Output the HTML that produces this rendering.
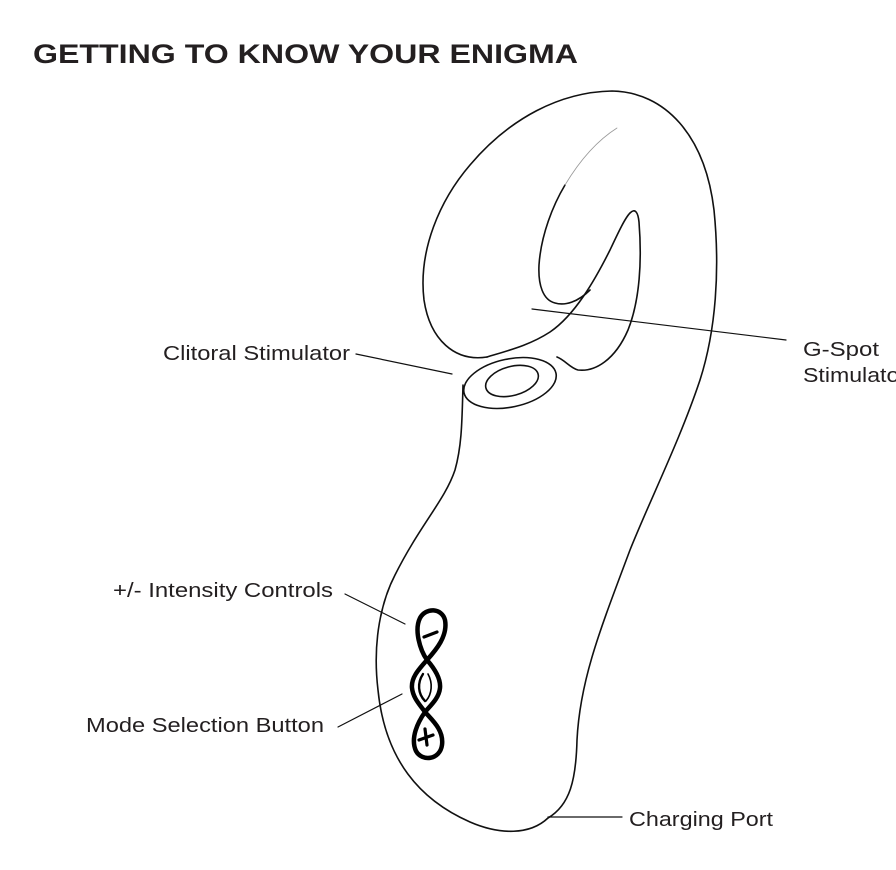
<!DOCTYPE html>
<html><head><meta charset="utf-8"><style>
html,body{margin:0;padding:0;background:#fff;}
svg{display:block;}
text{font-family:"Liberation Sans",sans-serif;fill:#231f20;}
</style></head><body>
<svg width="896" height="870" viewBox="0 0 896 870" xmlns="http://www.w3.org/2000/svg">
<text x="33" y="63" font-size="27" font-weight="bold" textLength="545" lengthAdjust="spacingAndGlyphs">GETTING TO KNOW YOUR ENIGMA</text>
<g fill="none" stroke="#111" stroke-width="1.6" stroke-linecap="round" stroke-linejoin="round">
<path d="M487,357 C455,362 430,340 424,300 C418,250 440,200 470,165 C510,118 560,92 612,91 C665,92 705,135 714,210 C720,270 716,330 700,380 C680,440 650,500 630,550 C600,630 580,680 577,740 C576,780 570,805 548,818 C530,835 500,835 470,822 C420,800 385,760 378,690 C372,640 382,600 395,575 C420,525 445,500 455,470 C462,445 462,420 463,385"/>
<path d="M487,357 C510,350 530,345 550,332 C575,315 595,280 610,250 C618,233 625,218 630,213 C635,208 638,212 639,222 C642,260 640,300 628,330 C615,360 595,372 578,370 C570,368 565,360 557,357"/>
<path d="M590,290 C578,302 565,306 555,303 C543,300 538,285 539,265 C541,235 553,205 565,185" />
<path d="M565,185 C580,160 598,140 617,128" stroke="#999" stroke-width="0.8"/>
<ellipse cx="510" cy="383" rx="47" ry="24" transform="rotate(-12 510 383)"/>
<ellipse cx="512" cy="381" rx="27" ry="14.5" transform="rotate(-15 512 381)"/>
<path d="M356,354 L452,374 M532,309 L786,340 M345,594 L405,624 M338,727 L402,694 M548,817 L622,817" stroke-width="1.2"/>
</g>
<g fill="none" stroke="#000" stroke-width="4.5" stroke-linecap="round" stroke-linejoin="round">
<path d="M427,660 C420,650 414,630 420,618 C426,607 442,608 445,620 C448,636 436,650 427,660 C418,670 411,678 412,688 C413,698 420,705 425,712 C418,722 410,738 416,751 C422,762 440,760 442,745 C444,730 432,720 425,712 M427,660 C434,668 441,678 440,688 C439,698 431,705 425,712"/>
<path d="M424,637 L437,632" stroke-width="3.2"/>
<path d="M419,740 L433,735 M425,729 L427,745" stroke-width="3.2"/>
<path d="M423,674 C417,683 418,694 425,701" stroke-width="2.4"/>
<path d="M428,674 C433,683 432,694 426,701" stroke-width="1.6"/>
</g>
<g font-size="20">
<text x="163" y="360" textLength="187" lengthAdjust="spacingAndGlyphs">Clitoral Stimulator</text>
<text x="803" y="356" textLength="76" lengthAdjust="spacingAndGlyphs">G-Spot</text>
<text x="803" y="382" textLength="104" lengthAdjust="spacingAndGlyphs">Stimulator</text>
<text x="113" y="597" textLength="220" lengthAdjust="spacingAndGlyphs">+/- Intensity Controls</text>
<text x="86" y="732" textLength="238" lengthAdjust="spacingAndGlyphs">Mode Selection Button</text>
<text x="629" y="826" textLength="144" lengthAdjust="spacingAndGlyphs">Charging Port</text>
</g>
</svg>
</body></html>
